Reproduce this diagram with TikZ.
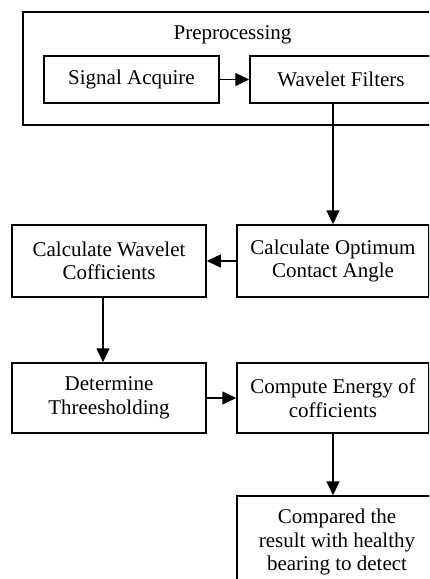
\documentclass[tikz,border=0pt]{standalone}
\usepackage{fontspec}
\setmainfont{Liberation Serif}
\usetikzlibrary{arrows.meta}
\tikzset{>={Triangle[length=14pt,width=13pt]}}
\tikzstyle{blk} = [draw, rectangle, line width=1.5pt, align=center, inner sep=2pt]
\tikzstyle{lnk} = [->, line width=1.5pt]

\begin{document}
\begin{tikzpicture}[x=1pt, y=-1pt, font=\fontsize{21}{23.5}\selectfont]
\useasboundingbox (0,0) rectangle (429,579);
\clip (0,0) rectangle (429,579);
% preprocessing stage
\node [blk, minimum width=419, minimum height=113] (pre) at (232.5, 68.5) {};
\node [draw=none] (ptitle) at (232.5, 35) {Preprocessing};
\node [blk, minimum width=175, minimum height=47] (sig) at (131.5, 79.5) {Signal Acquire};
\node [blk, minimum width=182, minimum height=47] (wav) at (341, 79.5) {Wavelet Filters};
% main chain
\node [blk, minimum width=194, minimum height=72] (coef) at (109, 261) {Calculate Wavelet\\Cofficients};
\node [blk, minimum width=192, minimum height=72] (opt) at (333, 261) {Calculate Optimum\\Contact Angle};
\node [blk, minimum width=194, minimum height=70] (thr) at (109, 398) {Determine\\Threesholding};
\node [blk, minimum width=192, minimum height=70] (eng) at (333, 398) {Compute Energy of\\cofficients};
\node [blk, minimum width=200, minimum height=92] (cmp) at (337, 542) {Compared the\\result with healthy\\bearing to detect};
\draw [lnk] (sig) -- (wav);
\draw [lnk] (wav.south -| opt.north) -- (opt.north);
\draw [lnk] (opt) -- (coef);
\draw [lnk] ([xshift=-6pt]coef.south) -- ([xshift=-6pt]thr.north);
\draw [lnk] (thr) -- (eng);
\draw [lnk] (eng.south) -- (eng.south |- cmp.north);
\end{tikzpicture}
\end{document}
